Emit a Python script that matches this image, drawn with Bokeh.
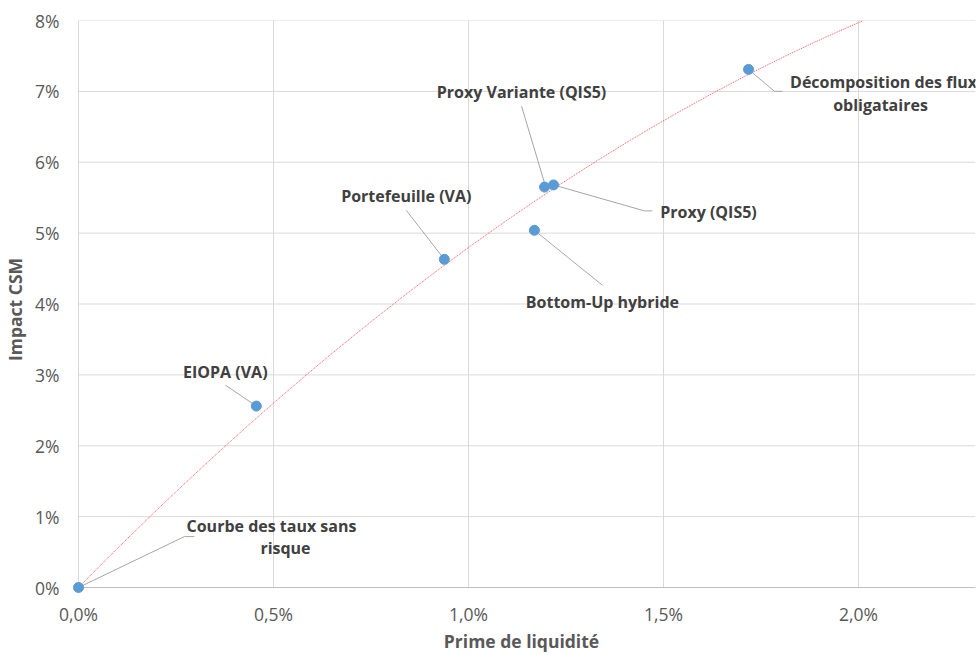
import numpy as np
from bokeh.plotting import figure
from bokeh.models import (ColumnDataSource, FixedTicker, CustomJSTickFormatter,
                          Range1d, LabelSet)
from bokeh.core.properties import value
from bokeh.embed import file_html
from bokeh.resources import INLINE

# --- data (values in %) ---
methods = [
    "Courbe des taux sans\nrisque",
    "EIOPA (VA)",
    "Portefeuille (VA)",
    "Proxy Variante (QIS5)",
    "Proxy (QIS5)",
    "Bottom-Up hybride",
    "Décomposition des flux\nobligataires",
]
prime_liquidite = [0.0, 0.456, 0.938, 1.195, 1.218, 1.169, 1.718]
impact_csm = [0.0, 2.56, 4.63, 5.65, 5.68, 5.04, 7.31]

x_ticks = [0.0, 0.5, 1.0, 1.5, 2.0]
y_ticks = [0, 1, 2, 3, 4, 5, 6, 7, 8]

# --- layout ---
W, H = 977, 655
LEFT, RIGHT, TOP, BOTTOM = 66, 2, 20, 56
PAD = 11                      # blank strip so the origin marker is not cut
X_MAX, Y_MAX = 2.3, 8.0
FRAME_W = W - LEFT - RIGHT
FRAME_H = H - TOP - BOTTOM
sx = (FRAME_W - PAD) / X_MAX   # px per x unit
sy = (FRAME_H - PAD) / Y_MAX   # px per y unit

# label line placement relative to each point, in screen px (right, up)
# one list per point, one (dx, dy) per text line
label_pos = [
    [(193, 62), (207, 40)],
    [(-31, 34)],
    [(-38, 63)],
    [(-23, 95)],
    [(155, -27)],
    [(68, -72)],
    [(135, -13), (132, -36)],
]
# leader line paths relative to each point, in screen px (right, up)
leader_paths = [
    [(0, 0), (106, 51), (116, 51)],
    [(0, 0), (-31, 21)],
    [(0, 0), (-38, 49)],
    [(0, 4), (-23, 81)],
    [(0, 0), (91, -26), (99, -26)],
    [(0, 0), (68, -55)],
    [(0, 0), (26, -22), (34, -22)],
]

TEXT = "#404040"
AXIS_TXT = "#595959"
GRID = "#d9d9d9"
FONT = "Open Sans"

p = figure(width=W, height=H, output_backend="svg", toolbar_location=None,
           x_range=Range1d(-PAD / sx, X_MAX), y_range=Range1d(-PAD / sy, Y_MAX),
           min_border_left=LEFT, min_border_right=RIGHT,
           min_border_top=TOP, min_border_bottom=BOTTOM)
p.outline_line_color = None
p.background_fill_color = "white"
p.border_fill_color = "white"
p.xgrid.visible = False
p.ygrid.visible = False

# gridlines limited to the positive quadrant
p.segment(x0=x_ticks, y0=[0] * len(x_ticks), x1=x_ticks, y1=[Y_MAX] * len(x_ticks),
          line_color=GRID, line_width=1)
p.segment(x0=[0] * len(y_ticks), y0=y_ticks, x1=[X_MAX] * len(y_ticks), y1=y_ticks,
          line_color=GRID, line_width=1)
# horizontal axis line at 0 %
p.segment(x0=[0], y0=[0], x1=[X_MAX], y1=[0], line_color="#bfbfbf", line_width=1)

# axes
p.xaxis.ticker = FixedTicker(ticks=x_ticks)
p.yaxis.ticker = FixedTicker(ticks=y_ticks)
p.xaxis.formatter = CustomJSTickFormatter(
    code="return tick.toFixed(1).replace('.', ',') + '%';")
p.yaxis.formatter = CustomJSTickFormatter(code="return tick.toFixed(0) + '%';")
for ax in (p.xaxis, p.yaxis):
    ax.axis_line_color = None
    ax.major_tick_line_color = None
    ax.minor_tick_line_color = None
    ax.major_tick_out = 0
    ax.major_tick_in = 0
    ax.minor_tick_out = 0
    ax.major_label_text_font = FONT
    ax.major_label_text_font_size = "17.5px"
    ax.major_label_text_color = AXIS_TXT
    ax.axis_label_text_font = FONT
    ax.axis_label_text_font_size = "17.5px"
    ax.axis_label_text_font_style = "bold"
    ax.axis_label_text_color = AXIS_TXT
p.xaxis.major_label_standoff = 3
p.yaxis.major_label_standoff = 8
p.xaxis.axis_label = "Prime de liquidité"
p.yaxis.axis_label = "Impact CSM"
p.xaxis.axis_label_standoff = 0
p.yaxis.axis_label_standoff = 5

# polynomial (order 2) trend through the origin
xa = np.array(prime_liquidite)
ya = np.array(impact_csm)
coef, *_ = np.linalg.lstsq(np.column_stack([xa, xa ** 2]), ya, rcond=None)
xt = np.linspace(0, X_MAX, 200)
yt = coef[0] * xt + coef[1] * xt ** 2
keep = yt <= Y_MAX
p.line(xt[keep], yt[keep], line_color="#ff4040", line_width=1,
       line_dash="1 1", line_alpha=0.9)

# leader lines
lxs, lys = [], []
for x0, y0, path in zip(prime_liquidite, impact_csm, leader_paths):
    lxs.append([x0 + dx / sx for dx, _ in path])
    lys.append([y0 + dy / sy for _, dy in path])
p.multi_line(lxs, lys, line_color="#a6a6a6", line_width=1)

# points
p.scatter(prime_liquidite, impact_csm, size=10, fill_color="#5b9bd5",
          line_color="#5b9bd5")

# data labels, one text row per line
lab = dict(x=[], y=[], text=[], dx=[], dy=[])
for x0, y0, name, pos in zip(prime_liquidite, impact_csm, methods, label_pos):
    for line, (dx, dy) in zip(name.split("\n"), pos):
        lab["x"].append(x0)
        lab["y"].append(y0)
        lab["text"].append(line)
        lab["dx"].append(dx)
        lab["dy"].append(dy)
labels = LabelSet(x="x", y="y", text="text", source=ColumnDataSource(lab),
                  x_offset="dx", y_offset="dy",
                  text_align="center", text_baseline="middle",
                  text_font=value(FONT), text_font_size="16px",
                  text_font_style="bold", text_color=TEXT)
p.add_layout(labels)

open("out.html", "w").write(file_html(p, INLINE))
